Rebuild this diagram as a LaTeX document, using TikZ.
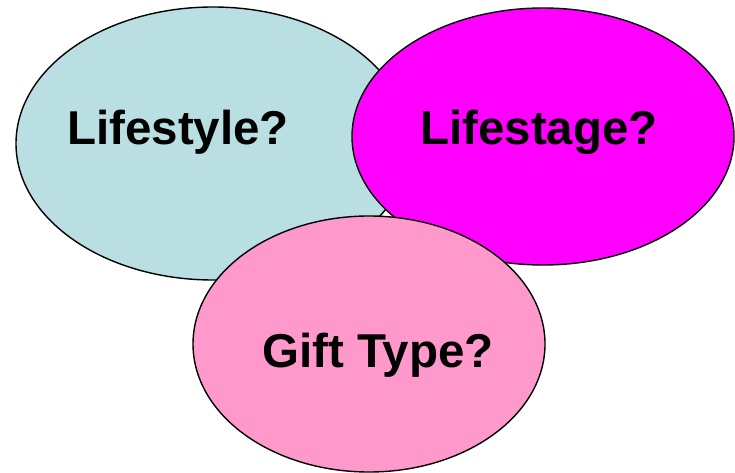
\documentclass[tikz,border=0pt]{standalone}
\usepackage{fontspec}
\setmainfont{Liberation Sans}
\definecolor{lblue}{HTML}{B9DFE3}
\definecolor{magen}{HTML}{FF00FF}
\definecolor{lpink}{HTML}{FF99CC}
\begin{document}
\begin{tikzpicture}[x=1pt,y=-1pt,
  bubble/.style={draw=black,line width=1.4pt},
  lbl/.style={anchor=base,inner sep=0pt,font=\fontsize{47.5}{57}\selectfont\bfseries}]
\useasboundingbox (0,0) rectangle (735,473);
\filldraw[bubble,fill=lblue] (213,143.5) ellipse [x radius=197,y radius=136.5];
\filldraw[bubble,fill=magen] (543,136.5) ellipse [x radius=191,y radius=128.5];
\filldraw[bubble,fill=lpink] (369,344) ellipse [x radius=176,y radius=128];
\node[lbl] (ls) at (178,145) {Lifestyle?};
\node[lbl] (lg) at (539,145) {Lifestage?};
\node[lbl] (gt) at (378,367) {Gift Type?};
\end{tikzpicture}
\end{document}
